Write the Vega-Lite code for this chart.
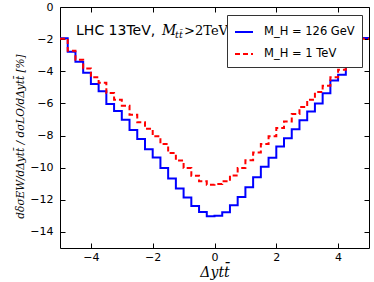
{
  "$schema": "https://vega.github.io/schema/vega-lite/v6.json",
  "width": 309,
  "height": 241,
  "autosize": {"type": "none"},
  "padding": {"left": 60, "top": 7, "right": 5, "bottom": 34},
  "background": "white",
  "config": {
    "view": {"stroke": "black", "strokeWidth": 1},
    "font": "DejaVu Sans",
    "axis": {
      "grid": false,
      "domain": false,
      "tickColor": "black",
      "tickSize": -5,
      "tickWidth": 1,
      "labelColor": "black",
      "labelFont": "DejaVu Sans",
      "labelFontSize": 11,
      "titleColor": "black",
      "titleFontWeight": "normal"
    }
  },
  "layer": [
    {
      "data": {
        "values": [
          {"series": "M_H = 126 GeV", "x": -5, "y": -1.95},
          {"series": "M_H = 126 GeV", "x": -4.75, "y": -2.78},
          {"series": "M_H = 126 GeV", "x": -4.5, "y": -3.4},
          {"series": "M_H = 126 GeV", "x": -4.25, "y": -4.09},
          {"series": "M_H = 126 GeV", "x": -4, "y": -4.79},
          {"series": "M_H = 126 GeV", "x": -3.75, "y": -5.25},
          {"series": "M_H = 126 GeV", "x": -3.5, "y": -6.03},
          {"series": "M_H = 126 GeV", "x": -3.25, "y": -6.48},
          {"series": "M_H = 126 GeV", "x": -3, "y": -7.01},
          {"series": "M_H = 126 GeV", "x": -2.75, "y": -7.65},
          {"series": "M_H = 126 GeV", "x": -2.5, "y": -8.21},
          {"series": "M_H = 126 GeV", "x": -2.25, "y": -8.86},
          {"series": "M_H = 126 GeV", "x": -2, "y": -9.36},
          {"series": "M_H = 126 GeV", "x": -1.75, "y": -10.02},
          {"series": "M_H = 126 GeV", "x": -1.5, "y": -10.68},
          {"series": "M_H = 126 GeV", "x": -1.25, "y": -11.29},
          {"series": "M_H = 126 GeV", "x": -1, "y": -11.85},
          {"series": "M_H = 126 GeV", "x": -0.75, "y": -12.39},
          {"series": "M_H = 126 GeV", "x": -0.5, "y": -12.76},
          {"series": "M_H = 126 GeV", "x": -0.25, "y": -13.03},
          {"series": "M_H = 126 GeV", "x": 0, "y": -12.99},
          {"series": "M_H = 126 GeV", "x": 0.25, "y": -12.78},
          {"series": "M_H = 126 GeV", "x": 0.5, "y": -12.34},
          {"series": "M_H = 126 GeV", "x": 0.75, "y": -11.83},
          {"series": "M_H = 126 GeV", "x": 1, "y": -11.22},
          {"series": "M_H = 126 GeV", "x": 1.25, "y": -10.6},
          {"series": "M_H = 126 GeV", "x": 1.5, "y": -9.94},
          {"series": "M_H = 126 GeV", "x": 1.75, "y": -9.38},
          {"series": "M_H = 126 GeV", "x": 2, "y": -8.69},
          {"series": "M_H = 126 GeV", "x": 2.25, "y": -8.17},
          {"series": "M_H = 126 GeV", "x": 2.5, "y": -7.61},
          {"series": "M_H = 126 GeV", "x": 2.75, "y": -7.05},
          {"series": "M_H = 126 GeV", "x": 3, "y": -6.51},
          {"series": "M_H = 126 GeV", "x": 3.25, "y": -6.0},
          {"series": "M_H = 126 GeV", "x": 3.5, "y": -5.37},
          {"series": "M_H = 126 GeV", "x": 3.75, "y": -4.57},
          {"series": "M_H = 126 GeV", "x": 4, "y": -4.21},
          {"series": "M_H = 126 GeV", "x": 4.25, "y": -3.47},
          {"series": "M_H = 126 GeV", "x": 4.5, "y": -2.78},
          {"series": "M_H = 126 GeV", "x": 4.75, "y": -1.93},
          {"series": "M_H = 126 GeV", "x": 5, "y": -1.93},
          {"series": "M_H = 1 TeV", "x": -5, "y": -1.97},
          {"series": "M_H = 1 TeV", "x": -4.75, "y": -2.72},
          {"series": "M_H = 1 TeV", "x": -4.5, "y": -3.28},
          {"series": "M_H = 1 TeV", "x": -4.25, "y": -3.82},
          {"series": "M_H = 1 TeV", "x": -4, "y": -4.38},
          {"series": "M_H = 1 TeV", "x": -3.75, "y": -4.72},
          {"series": "M_H = 1 TeV", "x": -3.5, "y": -5.35},
          {"series": "M_H = 1 TeV", "x": -3.25, "y": -5.77},
          {"series": "M_H = 1 TeV", "x": -3, "y": -6.14},
          {"series": "M_H = 1 TeV", "x": -2.75, "y": -6.7},
          {"series": "M_H = 1 TeV", "x": -2.5, "y": -7.18},
          {"series": "M_H = 1 TeV", "x": -2.25, "y": -7.57},
          {"series": "M_H = 1 TeV", "x": -2, "y": -8.05},
          {"series": "M_H = 1 TeV", "x": -1.75, "y": -8.53},
          {"series": "M_H = 1 TeV", "x": -1.5, "y": -9.09},
          {"series": "M_H = 1 TeV", "x": -1.25, "y": -9.56},
          {"series": "M_H = 1 TeV", "x": -1, "y": -10.02},
          {"series": "M_H = 1 TeV", "x": -0.75, "y": -10.5},
          {"series": "M_H = 1 TeV", "x": -0.5, "y": -10.85},
          {"series": "M_H = 1 TeV", "x": -0.25, "y": -11.06},
          {"series": "M_H = 1 TeV", "x": 0, "y": -11.02},
          {"series": "M_H = 1 TeV", "x": 0.25, "y": -10.85},
          {"series": "M_H = 1 TeV", "x": 0.5, "y": -10.48},
          {"series": "M_H = 1 TeV", "x": 0.75, "y": -10.02},
          {"series": "M_H = 1 TeV", "x": 1, "y": -9.54},
          {"series": "M_H = 1 TeV", "x": 1.25, "y": -9.05},
          {"series": "M_H = 1 TeV", "x": 1.5, "y": -8.53},
          {"series": "M_H = 1 TeV", "x": 1.75, "y": -8.05},
          {"series": "M_H = 1 TeV", "x": 2, "y": -7.53},
          {"series": "M_H = 1 TeV", "x": 2.25, "y": -7.12},
          {"series": "M_H = 1 TeV", "x": 2.5, "y": -6.66},
          {"series": "M_H = 1 TeV", "x": 2.75, "y": -6.22},
          {"series": "M_H = 1 TeV", "x": 3, "y": -5.77},
          {"series": "M_H = 1 TeV", "x": 3.25, "y": -5.29},
          {"series": "M_H = 1 TeV", "x": 3.5, "y": -4.9},
          {"series": "M_H = 1 TeV", "x": 3.75, "y": -4.38},
          {"series": "M_H = 1 TeV", "x": 4, "y": -3.9},
          {"series": "M_H = 1 TeV", "x": 4.25, "y": -3.24},
          {"series": "M_H = 1 TeV", "x": 4.5, "y": -2.72},
          {"series": "M_H = 1 TeV", "x": 4.75, "y": -1.97},
          {"series": "M_H = 1 TeV", "x": 5, "y": -1.97}
        ]
      },
      "mark": {"type": "line", "interpolate": "step-after", "strokeWidth": 2, "clip": true},
      "encoding": {
        "x": {
          "field": "x", "type": "quantitative",
          "scale": {"domain": [-5, 5], "nice": false, "zero": false},
          "axis": {
            "orient": "bottom", "values": [-4, -2, 0, 2, 4], "labelPadding": 8,
            "title": "Δytt̄", "titleFont": "DejaVu Serif", "titleFontStyle": "italic",
            "titleFontSize": 14, "titleY": 28, "titleBaseline": "alphabetic"
          }
        },
        "y": {
          "field": "y", "type": "quantitative",
          "scale": {"domain": [-15, 0], "nice": false, "zero": false},
          "axis": {
            "orient": "left", "values": [0, -2, -4, -6, -8, -10, -12, -14], "labelPadding": 12,
            "title": "dδσEW/dΔytt̄ / dσLO/dΔytt̄  [%]", "titleFont": "DejaVu Serif", "titleFontStyle": "italic",
            "titleFontSize": 10.5, "titleAngle": -90, "titleX": -40, "titleY": 129,
            "titleAlign": "center", "titleBaseline": "middle"
          }
        },
        "color": {
          "field": "series", "type": "nominal",
          "scale": {"domain": ["M_H = 126 GeV", "M_H = 1 TeV"], "range": ["#0000ff", "#ff0000"]},
          "legend": {
            "title": null, "orient": "none", "legendX": 167, "legendY": 8,
            "symbolType": "stroke", "symbolSize": 324, "symbolStrokeWidth": 2,
            "labelFontSize": 11.5, "labelColor": "black", "labelOffset": 10,
            "rowPadding": 6, "padding": 7, "strokeColor": "#333333", "fillColor": "white",
            "cornerRadius": 0
          }
        },
        "strokeDash": {
          "field": "series", "type": "nominal",
          "scale": {"domain": ["M_H = 126 GeV", "M_H = 1 TeV"], "range": [[1, 0], [5, 3]]},
          "legend": {
            "title": null, "orient": "none", "legendX": 167, "legendY": 8,
            "symbolType": "stroke", "symbolSize": 324, "symbolStrokeWidth": 2,
            "labelFontSize": 11.5, "labelColor": "black", "labelOffset": 10,
            "rowPadding": 6, "padding": 7, "strokeColor": "#333333", "fillColor": "white",
            "cornerRadius": 0
          }
        }
      }
    },
    {
      "data": {"values": [{"note": "LHC 13TeV,"}]},
      "mark": {"type": "text", "align": "left", "baseline": "alphabetic", "font": "DejaVu Sans", "fontSize": 14, "color": "black"},
      "encoding": {
        "text": {"field": "note"},
        "x": {"datum": -4.48, "type": "quantitative", "axis": {"orient": "top", "values": [-4, -2, 0, 2, 4], "labels": false, "title": null}},
        "y": {"datum": -1.77, "type": "quantitative", "axis": {"orient": "right", "values": [0, -2, -4, -6, -8, -10, -12, -14], "labels": false, "title": null}}
      }
    },
    {
      "data": {"values": [{"note": "M"}]},
      "mark": {"type": "text", "align": "left", "baseline": "alphabetic", "font": "DejaVu Serif", "fontStyle": "italic", "fontSize": 14, "dx": 86, "color": "black"},
      "encoding": {
        "text": {"field": "note"},
        "x": {"datum": -4.48, "type": "quantitative", "axis": null},
        "y": {"datum": -1.77, "type": "quantitative", "axis": null}
      }
    },
    {
      "data": {"values": [{"note": "tt̄"}]},
      "mark": {"type": "text", "align": "left", "baseline": "alphabetic", "font": "DejaVu Serif", "fontStyle": "italic", "fontSize": 9.5, "dx": 99, "dy": 3, "color": "black"},
      "encoding": {
        "text": {"field": "note"},
        "x": {"datum": -4.48, "type": "quantitative", "axis": null},
        "y": {"datum": -1.77, "type": "quantitative", "axis": null}
      }
    },
    {
      "data": {"values": [{"note": ">2TeV"}]},
      "mark": {"type": "text", "align": "left", "baseline": "alphabetic", "font": "DejaVu Serif", "fontSize": 13, "dx": 108, "color": "black"},
      "encoding": {
        "text": {"field": "note"},
        "x": {"datum": -4.48, "type": "quantitative", "axis": null},
        "y": {"datum": -1.77, "type": "quantitative", "axis": null}
      }
    }
  ],
  "resolve": {"axis": {"x": "independent", "y": "independent"}}
}
